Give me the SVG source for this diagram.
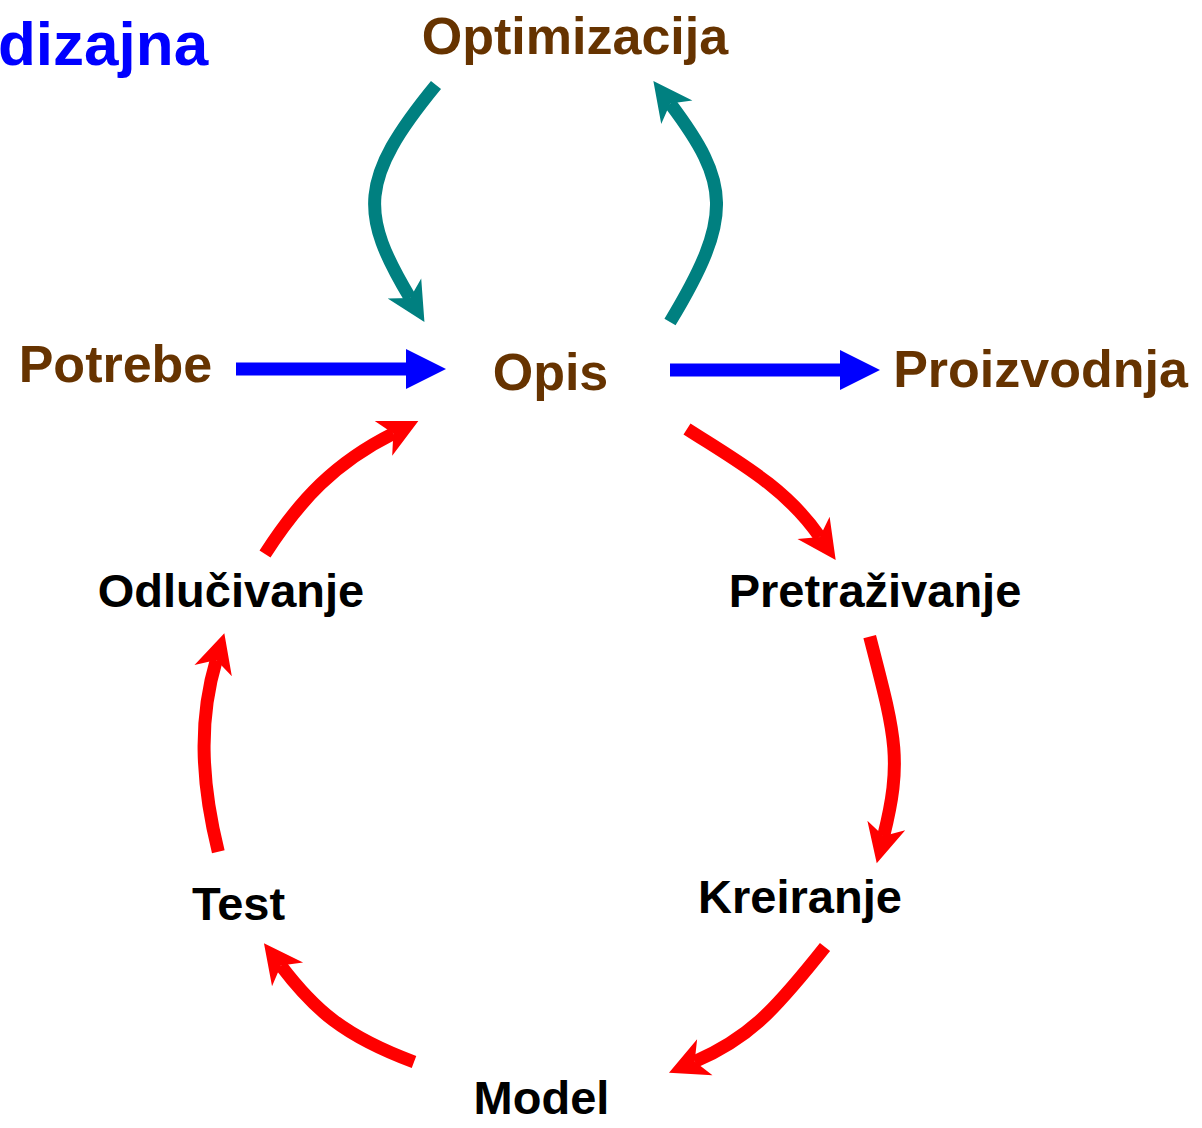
<svg xmlns="http://www.w3.org/2000/svg" width="1202" height="1128" viewBox="0 0 1202 1128">
  <style>
    text { font-family: "Liberation Sans", Arial, sans-serif; font-weight: bold; }
    .title { fill: #0000ff; font-size: 62px; }
    .main { fill: #663300; font-size: 52px; text-anchor: middle; }
    .step { fill: #000000; font-size: 47px; text-anchor: middle; }
    .flow { fill: none; stroke-width: 13; stroke-linecap: butt; }
    .teal { stroke: #008080; marker-end: url(#headTeal); }
    .red { stroke: #ff0000; marker-end: url(#headRed); }
    .blue { stroke: #0000ff; marker-end: url(#headBlue); }
  </style>
  <defs>
    <!-- notched heads: the path ends at the notch, tip is 28 further on -->
    <marker id="headTeal" markerUnits="userSpaceOnUse" orient="auto" refX="0" refY="0" markerWidth="1" markerHeight="1" style="overflow:visible">
      <path d="M28,0 L-11,-19.5 L0,0 L-11,19.5 Z" fill="#008080"/>
    </marker>
    <marker id="headRed" markerUnits="userSpaceOnUse" orient="auto" refX="0" refY="0" markerWidth="1" markerHeight="1" style="overflow:visible">
      <path d="M28,0 L-11,-19.5 L0,0 L-11,19.5 Z" fill="#ff0000"/>
    </marker>
    <!-- plain triangle head for the straight arrows -->
    <marker id="headBlue" markerUnits="userSpaceOnUse" orient="auto" refX="0" refY="0" markerWidth="1" markerHeight="1" style="overflow:visible">
      <path d="M0,-20 L40,0 L0,20 Z" fill="#0000ff"/>
    </marker>
  </defs>

  <rect width="1202" height="1128" fill="#ffffff"/>

  <text class="title" x="-2" y="65">dizajna</text>

  <g id="connectors">
    <path id="e-opt-opis" class="flow teal" d="M436,85 C358,180 360,214 410.1,298"/>
    <path id="e-opis-opt" class="flow teal" d="M670,322 C734,216 730,183 670.2,103.5"/>
    <path id="e-potrebe-opis" class="flow blue" d="M236,369 L406,369"/>
    <path id="e-opis-proizvodnja" class="flow blue" d="M670,370 L840,370"/>
    <path id="e-opis-pretrazivanje" class="flow red" d="M687,429 C737.4,461.4 785.8,487.5 819.8,536.9"/>
    <path id="e-pretrazivanje-kreiranje" class="flow red" d="M869.7,636.7 C894.7,733.7 903.2,758.5 883.6,836.1"/>
    <path id="e-kreiranje-model" class="flow red" d="M825,947 C775.4,1009.4 749.8,1037.9 694.7,1061.6"/>
    <path id="e-model-test" class="flow red" d="M414,1062 C343.5,1035.8 314.2,1009.4 280.9,965.6"/>
    <path id="e-test-odlucivanje" class="flow red" d="M218.3,851.7 C200.3,779 199.1,717.6 216.3,660.1"/>
    <path id="e-odlucivanje-opis" class="flow red" d="M265,554 C300.1,499.4 335.2,462.6 393.3,433.5"/>
  </g>

  <g id="optimizacija"><text class="main" x="575" y="54">Optimizacija</text></g>
  <g id="potrebe"><text class="main" x="115.5" y="382">Potrebe</text></g>
  <g id="opis"><text class="main" x="550.5" y="390">Opis</text></g>
  <g id="proizvodnja"><text class="main" x="1040.5" y="387">Proizvodnja</text></g>
  <g id="odlucivanje"><text class="step" x="231" y="607">Odlučivanje</text></g>
  <g id="pretrazivanje"><text class="step" x="875" y="607">Pretraživanje</text></g>
  <g id="test"><text class="step" x="238.5" y="920">Test</text></g>
  <g id="kreiranje"><text class="step" x="800" y="913">Kreiranje</text></g>
  <g id="model"><text class="step" x="541.5" y="1114">Model</text></g>
</svg>
